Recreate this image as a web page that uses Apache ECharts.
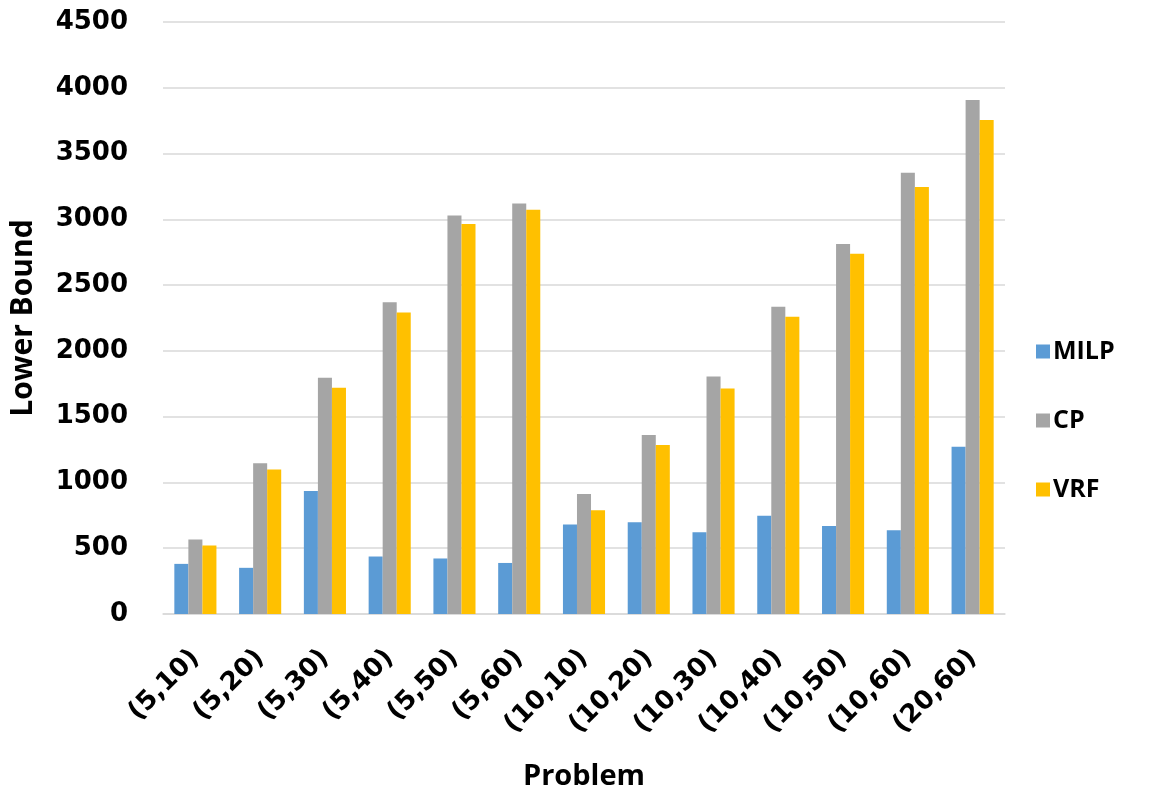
<!DOCTYPE html>
<html>
<head>
<meta charset="utf-8">
<title>Lower Bound by Problem</title>
<script src="https://cdn.jsdelivr.net/npm/echarts@6/dist/echarts.min.js"></script>
<style>
  html, body { margin: 0; padding: 0; background: #ffffff; }
  #chart { width: 1172px; height: 797px; }
</style>
</head>
<body>
<div id="chart"></div>
<script>
// Problem instances (categories on the x axis)
const problems = ['(5,10)', '(5,20)', '(5,30)', '(5,40)', '(5,50)', '(5,60)',
  '(10,10)', '(10,20)', '(10,30)', '(10,40)', '(10,50)', '(10,60)', '(20,60)'];

// Lower bound reached by each method
const milp = [381, 351, 935, 437, 422, 388, 680, 698, 621, 747, 668, 637, 1271];
const cp   = [567, 1146, 1796, 2370, 3030, 3120, 913, 1360, 1806, 2335, 2813, 3355, 3908];
const vrf  = [521, 1099, 1719, 2291, 2965, 3072, 789, 1284, 1715, 2260, 2739, 3245, 3756];

const seriesNames = ['MILP', 'CP', 'VRF'];
const seriesColors = ['#5B9BD5', '#A5A5A5', '#FFC000'];

// Value axis range
const yMin = 0, yMax = 4500, yStep = 500;

const tickFont = 'DejaVu Sans';
const titleFont = 'Open Sans';

const chart = echarts.init(document.getElementById('chart'), null, { renderer: 'canvas' });

function bar(name, data, color) {
  return {
    name: name,
    type: 'bar',
    data: data,
    barGap: '0%',
    barCategoryGap: '35%',
    itemStyle: { color: color },
    emphasis: { disabled: true }
  };
}

chart.setOption({
  animation: false,
  color: seriesColors,
  grid: { left: 163, right: 167, top: 22, bottom: 183, containLabel: false },
  legend: {
    orient: 'vertical',
    left: 1031,
    top: 334,
    itemWidth: 14,
    itemHeight: 14,
    itemGap: 44,
    icon: 'rect',
    selectedMode: false,
    textStyle: { fontFamily: titleFont, fontWeight: 'bold', fontSize: 25, color: '#000', lineHeight: 25, padding: [0, 0, 0, -2] },
    data: seriesNames
  },
  xAxis: {
    type: 'category',
    data: problems,
    name: 'Problem',
    nameLocation: 'middle',
    nameGap: 148,
    nameTextStyle: { fontFamily: titleFont, fontWeight: 'bold', fontSize: 29, color: '#000' },
    axisLine: { show: true, lineStyle: { color: '#d9d9d9', width: 1.5 } },
    axisTick: { show: false },
    axisLabel: {
      rotate: 45,
      margin: 40,
      fontFamily: tickFont,
      fontWeight: 'bold',
      fontSize: 26,
      color: '#000'
    }
  },
  yAxis: {
    type: 'value',
    min: yMin,
    max: yMax,
    interval: yStep,
    name: 'Lower Bound',
    nameLocation: 'middle',
    nameGap: 125,
    nameRotate: 90,
    nameTextStyle: { fontFamily: titleFont, fontWeight: 'bold', fontSize: 30, color: '#000' },
    axisLine: { show: false },
    axisTick: { show: false },
    axisLabel: {
      margin: 35,
      fontFamily: tickFont,
      fontWeight: 'bold',
      fontSize: 26,
      color: '#000',
      formatter: function (v) { return String(v); }
    },
    splitLine: { show: true, lineStyle: { color: '#d9d9d9', width: 1.5 } }
  },
  series: [
    bar(seriesNames[0], milp, seriesColors[0]),
    bar(seriesNames[1], cp, seriesColors[1]),
    bar(seriesNames[2], vrf, seriesColors[2])
  ]
});
</script>
</body>
</html>
